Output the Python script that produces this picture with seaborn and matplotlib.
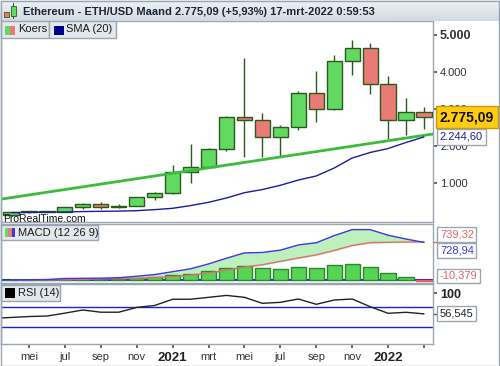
import numpy as np
import pandas as pd
import seaborn as sns
import matplotlib.pyplot as plt
from matplotlib.patches import Rectangle

# month index 0 = apr 2020 ... 23 = mrt 2022 (monthly candles)
month_idx = list(range(24))
opens  = [135, 207, 231, 226, 345, 432, 360, 385, 615, 738, 1310, 1420,
          1915, 2775, 2705, 2255, 2525, 3425, 2990, 4285, 4640, 3670, 2700, 2910]
highs  = [227, 240, 253, 347, 470, 488, 420, 620, 760, 1480, 2050, 1940,
          2800, 4380, 2885, 2560, 3480, 4030, 4460, 4870, 4780, 3880, 3300, 3045]
lows   = [130, 180, 216, 225, 300, 308, 335, 370, 530, 715, 1000, 1400,
          1875, 1710, 1690, 1730, 2430, 2655, 2970, 3920, 3410, 2190, 2300, 2450]
closes = [207, 231, 226, 345, 432, 360, 385, 615, 738, 1310, 1420, 1915,
          2775, 2705, 2255, 2525, 3425, 2990, 4285, 4640, 3670, 2700, 2910, 2775.09]
sma20  = [200, 205, 210, 218, 228, 235, 240, 252, 280, 316, 390, 478,
          595, 738, 824, 938, 1080, 1190, 1405, 1675, 1824, 1932, 2095, 2244.6]
trend_x = [-0.6, 23.5]
trend_y = [560, 2325]

macd   = [6, 10, 14, 35, 38, 41, 50, 78, 110, 166, 221, 315,
          425, 527, 535, 580, 680, 722, 860, 975, 975, 867, 794, 728.94]
signal = [2, 4, 6, 10, 18, 26, 32, 40, 52, 70, 100, 140,
          195, 255, 300, 365, 430, 490, 575, 670, 725, 732, 736, 739.32]
hist   = [4, 6, 8, 25, 20, 15, 18, 38, 58, 96, 121, 175,
          230, 272, 235, 215, 250, 232, 285, 305, 250, 135, 58, -10.379]
rsi_x  = [-0.6] + month_idx
rsi    = [48, 49, 51, 52, 58, 64.6, 60, 60, 70, 74, 87, 87, 91,
          95, 91, 78.5, 80.6, 87.5, 76.5, 85.4, 87.5, 71.5, 57.7, 59.8, 56.545]

tick_pos = [1, 3, 5, 7, 9, 11, 13, 15, 17, 19, 21, 23]
tick_lab = ["mei", "jul", "sep", "nov", "2021", "mrt", "mei", "jul", "sep", "nov", "2022", ""]
price_ticks = [1000, 2000, 3000, 4000, 5000]
price_lab = ["1.000", "2.000", "3.000", "4.000", "5.000"]

sns.set_theme(style="white")
plt.rcParams["font.family"] = ["Liberation Sans", "DejaVu Sans"]

W, H = 500, 366
GRID = "#9aa6b2"
fig = plt.figure(figsize=(5, 3.66), dpi=100)


def box(x, y, w, h):
    # pixel box from top-left -> figure fraction
    return [x / W, 1 - (y + h) / H, w / W, h / H]


def rect(x, y, w, h, **kw):
    fig.add_artist(Rectangle((x / W, 1 - (y + h) / H), w / W, h / H,
                             transform=fig.transFigure, **kw))


ax = fig.add_axes(box(1, 21, 432, 201))
ax_macd = fig.add_axes(box(1, 224, 432, 59))
ax_rsi = fig.add_axes(box(1, 284, 432, 60))

for a in (ax, ax_macd, ax_rsi):
    a.set_xlim(-0.556, 23.5)
    for s in a.spines.values():
        s.set_color(GRID)
        s.set_linewidth(1)
    a.set_xticks([])
    a.set_yticks([])

# -------------------------
# price panel
# -------------------------
sns.lineplot(x=trend_x, y=trend_y, ax=ax, color="#3dbb3d", lw=2, zorder=4)
sns.lineplot(x=month_idx, y=sma20, ax=ax, color="#1c1c9c", lw=1, zorder=4)
for i in month_idx:
    o, h, l, c = opens[i], highs[i], lows[i], closes[i]
    col = "#62da62" if c >= o else "#ea7a76"
    ax.vlines(i, l, h, color="#2c5a1c", lw=1, zorder=2)
    ax.bar(i, c - o, bottom=o, width=0.85, color=col, edgecolor="#2c5a1c", lw=1, zorder=3)
ax.set_ylim(-54, 5378)
ax.set_xlim(-0.556, 23.5)
ax.yaxis.tick_right()
ax.set_yticks(price_ticks)
ax.set_yticklabels(price_lab)
ax.tick_params(axis="y", direction="out", length=3, pad=2, labelsize=8,
               color="#555555", labelcolor="#333333")
ax.get_yticklabels()[-1].set_fontweight("bold")
ax.get_yticklabels()[-1].set_fontsize(9)
ax.set_xlabel("")
ax.set_ylabel("")
ax.text(0.004, -0.012, "ProRealTime.com", transform=ax.transAxes, fontsize=7.5,
        color="#111111", va="bottom", ha="left", clip_on=True)

ytr = ax.get_yaxis_transform()
ax.text(1.016, closes[-1], "2.775,09", transform=ytr, fontsize=10, fontweight="bold",
        va="center", ha="left", color="#111111", zorder=10, clip_on=False,
        bbox=dict(boxstyle="square,pad=0.28", fc="#ffcc11", ec="#c89a00", lw=1))
ax.text(1.016, sma20[-1], "2.244,60", transform=ytr, fontsize=8,
        va="center", ha="left", color="#1c1c9c", zorder=10, clip_on=False,
        bbox=dict(boxstyle="square,pad=0.25", fc="white", ec=GRID, lw=1))

# -------------------------
# MACD panel
# -------------------------
ax_macd.axhline(0, color="#2222cc", lw=1.5, zorder=2)
ax_macd.bar(month_idx, hist, width=0.85,
            color=["#55d455" if v >= 0 else "#e06060" for v in hist],
            edgecolor=["#2a8a2a" if v >= 0 else "#e06060" for v in hist], lw=1, zorder=3)
ax_macd.fill_between(month_idx, macd, signal, where=np.array(macd) >= np.array(signal),
                     interpolate=True, color="#bdf0bd", zorder=1)
sns.lineplot(x=month_idx, y=signal, ax=ax_macd, color="#e07070", lw=1, zorder=4)
sns.lineplot(x=month_idx, y=macd, ax=ax_macd, color="#3a3ae0", lw=1, zorder=5)
ax_macd.set_ylim(-52, 1083)
ax_macd.set_xlim(-0.556, 23.5)
ax_macd.set_yticks([])
ax_macd.set_xlabel("")
ax_macd.set_ylabel("")
mtr = ax_macd.get_yaxis_transform()
ax_macd.plot([1.0, 1.012], [739, 739], transform=mtr, color="#e06060", lw=1, clip_on=False)
for val, txt, col in [(885, "739,32", "#e06666"), (569, "728,94", "#3a3ae0"), (83, "-10,379", "#e06666")]:
    ax_macd.text(1.016, val, txt, transform=mtr, fontsize=8, va="center", ha="left",
                 color=col, zorder=10, clip_on=False,
                 bbox=dict(boxstyle="square,pad=0.22", fc="white", ec=GRID, lw=1))

# -------------------------
# RSI panel
# -------------------------
ax_rsi.axhline(70, color="#2222cc", lw=1)
ax_rsi.axhline(30, color="#2222cc", lw=1)
sns.lineplot(x=rsi_x, y=rsi, ax=ax_rsi, color="#222222", lw=1)
ax_rsi.set_ylim(-6.3, 118.8)
ax_rsi.set_xlim(-0.556, 23.5)
ax_rsi.yaxis.tick_right()
ax_rsi.set_yticks([100])
ax_rsi.set_yticklabels(["100"])
ax_rsi.tick_params(axis="y", direction="out", length=3, pad=2, labelsize=9,
                   color="#555555", labelcolor="#222222")
ax_rsi.get_yticklabels()[0].set_fontweight("bold")
ax_rsi.set_xticks(tick_pos)
ax_rsi.set_xticklabels(tick_lab)
ax_rsi.tick_params(axis="x", direction="out", length=3, pad=3, labelsize=8,
                   color="#555555", labelcolor="#333333", bottom=True)
for t in ax_rsi.get_xticklabels():
    if t.get_text().startswith("20"):
        t.set_fontweight("bold")
        t.set_fontsize(9.5)
        t.set_color("#222222")
ax_rsi.set_xlabel("")
ax_rsi.set_ylabel("")
rtr = ax_rsi.get_yaxis_transform()
ax_rsi.plot([1.0, 1.012], [rsi[-1], rsi[-1]], transform=rtr, color="#555555", lw=1, clip_on=False)
ax_rsi.text(1.016, rsi[-1], "56,545", transform=rtr, fontsize=8, va="center", ha="left",
            color="#222222", zorder=10, clip_on=False,
            bbox=dict(boxstyle="square,pad=0.22", fc="white", ec=GRID, lw=1))

# -------------------------
# title bar + legends
# -------------------------
tax = fig.add_axes(box(0, 0, 500, 21))
grad = np.linspace(0, 1, 20).reshape(-1, 1)
tax.imshow(grad, aspect="auto", cmap=sns.blend_palette(["#eef2f5", "#d3dae1"], as_cmap=True),
           extent=[0, 1, 0, 1])
tax.axis("off")
fig.text(23 / W, 1 - 12 / H, "Ethereum - ETH/USD Maand 2.775,09 (+5,93%) 17-mrt-2022 0:59:53",
         fontsize=8, fontweight="bold", color="#1c2733", va="center", ha="left")
rect(0, 20.5, 500, 0.5, fc=GRID, ec="none")
# candle icon
rect(5.5, 10, 0.8, 9, fc="#2c5a1c", ec="none")
rect(3.5, 12, 5, 5, fc="#ea7a76", ec="#2c5a1c", lw=0.6)
rect(13, 3, 0.8, 16, fc="#2c5a1c", ec="none")
rect(11, 6, 5, 10, fc="#62da62", ec="#2c5a1c", lw=0.6)


def legend_box(x, y, w, h, label):
    rect(x, y, w, h, fc="#e3e8ed", ec=GRID, lw=1, zorder=5)
    fig.text((x + 17) / W, 1 - (y + h / 2) / H, label, fontsize=8, color="#1a1a1a",
             va="center", ha="left", zorder=6)


legend_box(1, 21, 48, 17, "Koers")
rect(5, 26, 5, 9, fc="#62da62", ec="none", zorder=6)
rect(10, 26, 5, 9, fc="#ea7a76", ec="none", zorder=6)
legend_box(49, 21, 67, 17, "SMA (20)")
rect(54, 26, 10, 9, fc="#00008c", ec="none", zorder=6)
legend_box(1, 225, 97, 15, "MACD (12 26 9)")
rect(5, 228, 3.3, 9, fc="#62da62", ec="none", zorder=6)
rect(8.3, 228, 3.3, 9, fc="#ea7a76", ec="none", zorder=6)
rect(11.6, 228, 3.4, 9, fc="#3a3ae0", ec="none", zorder=6)
legend_box(1, 285, 59, 16, "RSI (14)")
rect(5, 288, 10, 10, fc="black", ec="none", zorder=6)

# outer frame
rect(0.5, 0.5, 498.5, 365, fill=False, ec=GRID, lw=1, zorder=20)

fig.savefig("out.png", dpi=100)
